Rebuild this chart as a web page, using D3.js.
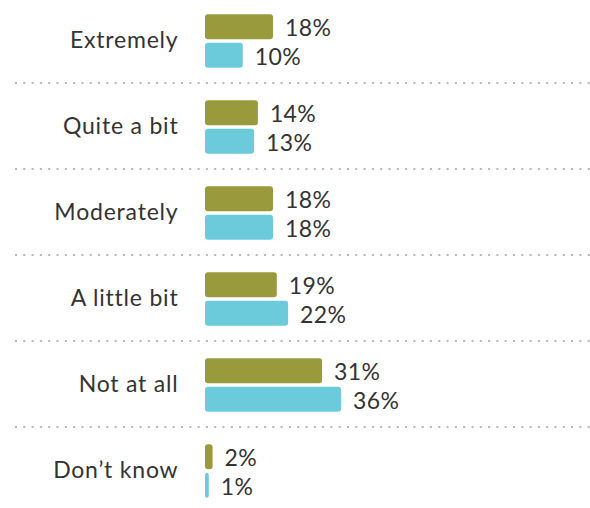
<!DOCTYPE html>
<html>
<head>
<meta charset="utf-8">
<script src="https://cdn.jsdelivr.net/npm/d3@7"></script>
<style>
  html, body { margin: 0; padding: 0; background: #fff; }
  svg { display: block; }
</style>
</head>
<body>
<svg id="chart" width="590" height="508"></svg>
<script>
const categories = ["Extremely", "Quite a bit", "Moderately", "A little bit", "Not at all", "Don’t know"];
const seriesA = [18, 14, 18, 19, 31, 2];
const seriesB = [10, 13, 18, 22, 36, 1];
const colors = ["#999a3b", "#6bcbdb"];

const svg = d3.select("#chart");
const font = "Lato, 'Open Sans', sans-serif";

const y = d3.scaleBand().domain(categories).range([-2, 514]).padding(0);
const x = d3.scaleLinear().domain([0, 36]).range([0, 136]);
const x0 = 205;
const barH = 25, gap = 3.4;

// separators
svg.selectAll("line.sep")
  .data(categories.slice(0, -1))
  .enter().append("line")
  .attr("class", "sep")
  .attr("x1", 15).attr("x2", 590)
  .attr("y1", d => y(d) + y.bandwidth() / 2 + 42)
  .attr("y2", d => y(d) + y.bandwidth() / 2 + 42)
  .attr("stroke", "#b8b8b8")
  .attr("stroke-width", 2)
  .attr("stroke-dasharray", "2,6.3");

// category labels
svg.selectAll("text.cat")
  .data(categories)
  .enter().append("text")
  .attr("class", "cat")
  .attr("x", 178.5)
  .attr("y", d => y(d) + y.bandwidth() / 2 + 7)
  .attr("text-anchor", "end")
  .attr("font-family", font)
  .attr("font-size", 23)
  .attr("letter-spacing", "0.8px")
  .attr("fill", "#333")
  .text(d => d);

const rows = [];
categories.forEach((c, i) => {
  rows.push({ c, v: seriesA[i], s: 0 });
  rows.push({ c, v: seriesB[i], s: 1 });
});

const barY = d => {
  const cy = y(d.c) + y.bandwidth() / 2;
  return d.s === 0 ? cy - gap / 2 - barH : cy + gap / 2;
};

svg.selectAll("rect.bar")
  .data(rows)
  .enter().append("rect")
  .attr("class", "bar")
  .attr("x", x0)
  .attr("y", barY)
  .attr("width", d => x(d.v))
  .attr("height", barH)
  .attr("ry", 3)
  .attr("rx", d => Math.min(3, x(d.v) / 2))
  .attr("fill", d => colors[d.s]);

svg.selectAll("text.val")
  .data(rows)
  .enter().append("text")
  .attr("class", "val")
  .attr("x", d => x0 + x(d.v) + 12)
  .attr("y", d => barY(d) + barH / 2 + 9.5)
  .attr("font-family", font)
  .attr("font-size", 23)
  .attr("letter-spacing", "0.4px")
  .attr("fill", "#333")
  .text(d => d.v + "%");
</script>
</body>
</html>
